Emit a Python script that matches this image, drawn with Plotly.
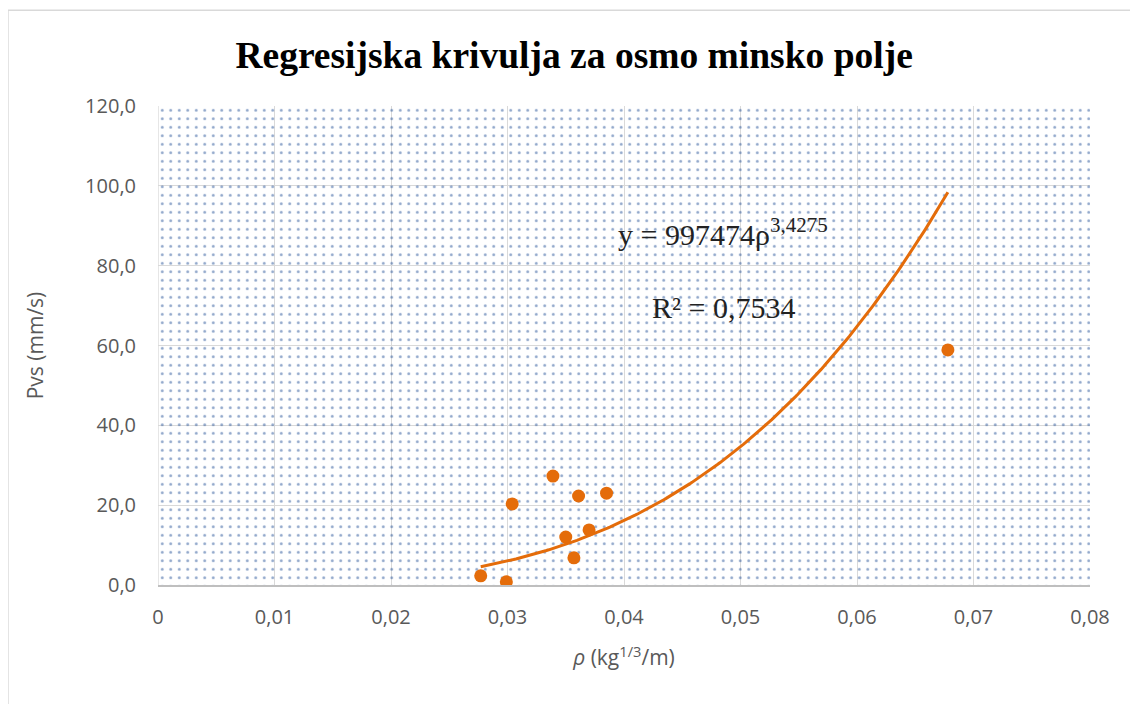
import numpy as np
import plotly.graph_objects as go

# ---- data ----
rho = [0.0277, 0.0299, 0.0304, 0.0339, 0.0350, 0.0357, 0.0361, 0.0370, 0.0385, 0.0678]
pvs = [2.3, 0.8, 20.3, 27.3, 12.0, 6.8, 22.3, 13.8, 23.0, 58.9]

# trendline coefficients shown on the chart (power fit)
coef_a = 997474
coef_b = 3.4275
r2_text = "R² = 0,7534"
eq_text = "y = 997474ρ<sup>3,4275</sup>"

x_ticks = [0, 0.01, 0.02, 0.03, 0.04, 0.05, 0.06, 0.07, 0.08]
x_tick_labels = ["0", "0,01", "0,02", "0,03", "0,04", "0,05", "0,06", "0,07", "0,08"]
y_ticks = [0, 20, 40, 60, 80, 100, 120]
y_tick_labels = ["0,0", "20,0", "40,0", "60,0", "80,0", "100,0", "120,0"]

title_text = "Regresijska krivulja za osmo minsko polje"
x_title = "<i>ρ</i> (kg<sup>1/3</sup>/m)"
y_title = "Pvs (mm/s)"

# ---- styling ----
ORANGE = "#E46C0A"
GRID = "#D9D9D9"
TICKCOL = "#595959"
SANS = "Open Sans, Liberation Sans, sans-serif"
SERIF = "Liberation Serif, Times New Roman, serif"

trend_x = np.linspace(min(rho), max(rho), 200)
trend_y = coef_a * trend_x ** coef_b

fig = go.Figure()

# dotted pattern background of the plot area
fig.add_trace(go.Scatter(
    x=[x_ticks[0], x_ticks[-1], x_ticks[-1], x_ticks[0], x_ticks[0]],
    y=[y_ticks[0], y_ticks[0], y_ticks[-1], y_ticks[-1], y_ticks[0]],
    mode="none", fill="toself", fillcolor="rgba(0,0,0,0)",
    fillpattern=dict(shape=".", fgcolor="#1F4E96", bgcolor="rgba(0,0,0,0)",
                     size=8.5, solidity=0.09),
    hoverinfo="skip", showlegend=False,
))

fig.add_trace(go.Scatter(
    x=trend_x, y=trend_y, mode="lines",
    line=dict(color=ORANGE, width=3), hoverinfo="skip", showlegend=False,
))

fig.add_trace(go.Scatter(
    x=rho, y=pvs, mode="markers",
    marker=dict(color=ORANGE, size=13, line=dict(width=0)),
    showlegend=False,
))

# page body has an 8px margin, so the figure is 8px smaller than the window
fig.update_layout(
    width=1130, height=696,
    paper_bgcolor="white", plot_bgcolor="white",
    margin=dict(l=150, r=48, t=98, b=119, autoexpand=False),
    title=dict(text="<b>" + title_text + "</b>", x=0.501, xanchor="center",
               y=0.932, yanchor="middle",
               font=dict(family=SERIF, size=37.5, color="black")),
    xaxis=dict(
        range=[0, 0.08], tickmode="array", tickvals=x_ticks, ticktext=x_tick_labels,
        showgrid=True, gridcolor=GRID, gridwidth=1.3, zeroline=False,
        showline=True, linecolor="#BFBFBF", linewidth=1.5, automargin=False,
        ticks="", ticklabelstandoff=13,
        tickfont=dict(family=SANS, size=20, color=TICKCOL),
        title=dict(text=x_title, font=dict(family=SANS, size=21, color=TICKCOL), standoff=22),
    ),
    yaxis=dict(
        range=[0, 120], tickmode="array", tickvals=y_ticks, ticktext=y_tick_labels,
        showgrid=True, gridcolor=GRID, gridwidth=1.3, zeroline=False, automargin=False,
        showline=False, ticks="", ticklabelstandoff=21,
        tickfont=dict(family=SANS, size=20, color=TICKCOL),
        title=dict(text=y_title, font=dict(family=SANS, size=21, color=TICKCOL), standoff=35),
    ),
    annotations=[
        dict(x=0.0485, y=88.4, xref="x", yref="y", text=eq_text, showarrow=False,
             font=dict(family=SERIF, size=30, color="#222222")),
        dict(x=0.0485, y=69.6, xref="x", yref="y", text=r2_text, showarrow=False,
             font=dict(family=SERIF, size=30, color="#222222")),
    ],
    shapes=[
        dict(type="rect", xref="paper", yref="paper", x0=-0.161, x1=1.06, y0=-0.26, y1=1.2,
             line=dict(color=GRID, width=1.5), fillcolor="rgba(0,0,0,0)", layer="below"),
        dict(type="line", xref="x", yref="y", x0=0, x1=0, y0=0, y1=120,
             line=dict(color=GRID, width=1.3), layer="below"),
    ],
)

fig.write_html("out.html")
